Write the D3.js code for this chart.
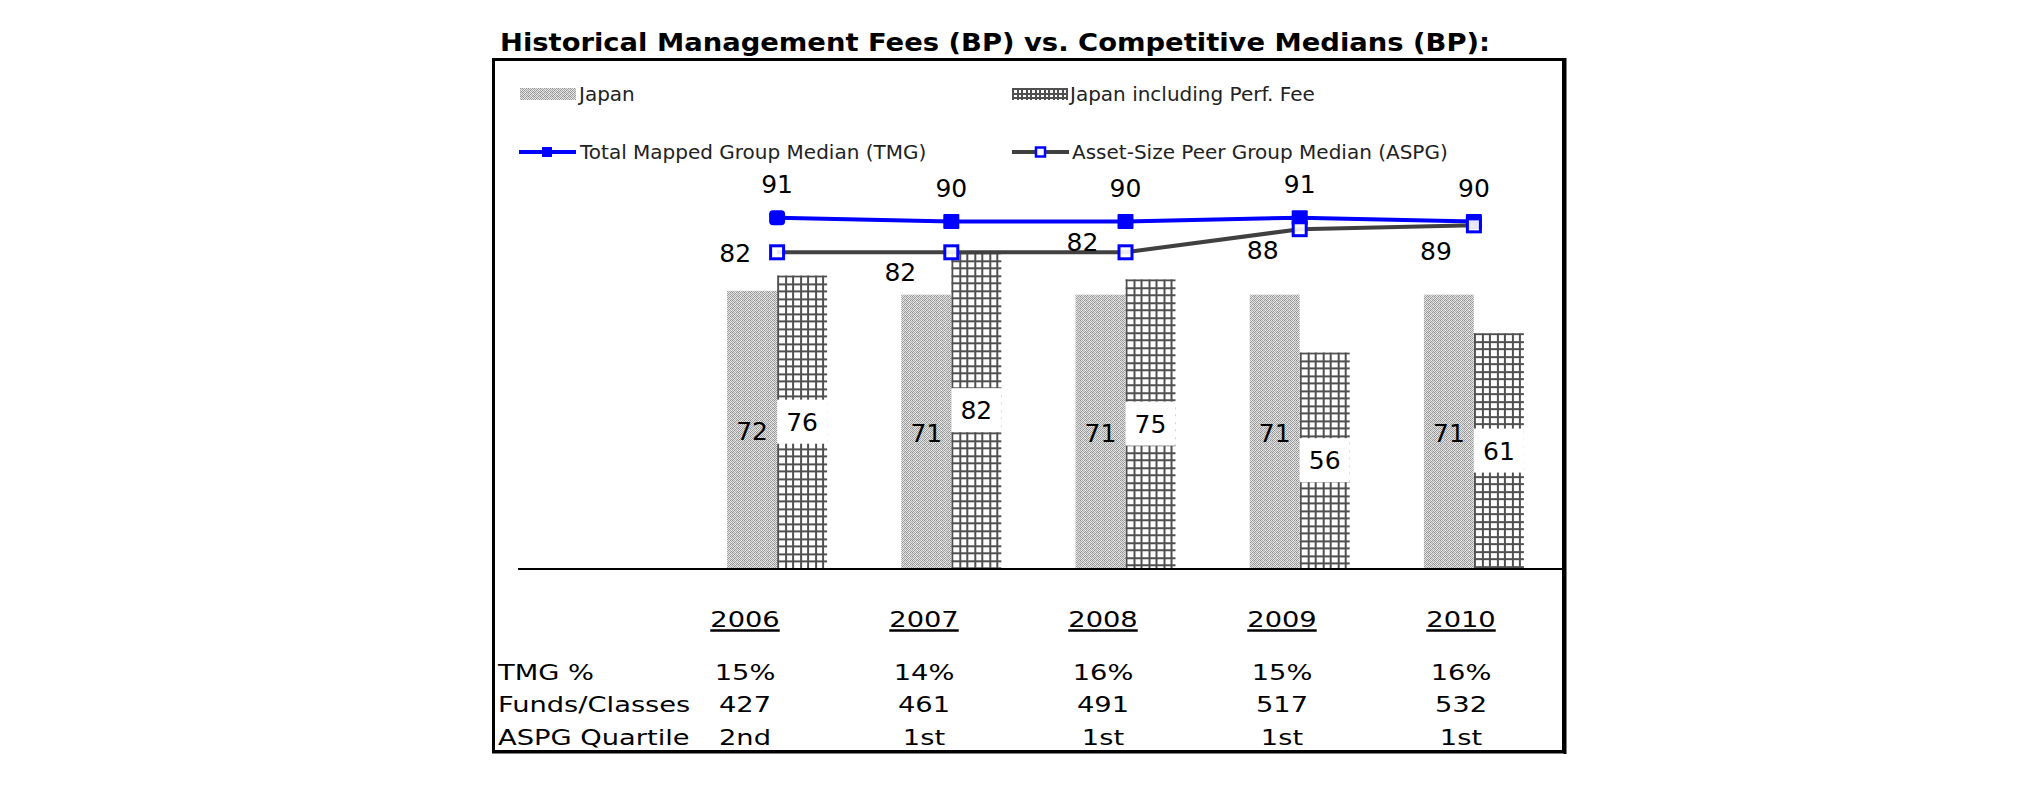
<!DOCTYPE html>
<html>
<head>
<meta charset="utf-8">
<script src="https://cdn.jsdelivr.net/npm/d3@7"></script>
<style>
  body { margin: 0; background: #fff; }
  svg { display: block; }
  text { font-family: "DejaVu Sans", Verdana, sans-serif; }
</style>
</head>
<body>
<div id="chart"></div>
<script>
// Historical management fees vs competitive medians (BP)
const years = ['2006', '2007', '2008', '2009', '2010'];
const japanFee = [72, 71, 71, 71, 71];
const japanPerfFee = [76, 82, 75, 56, 61];
const tmgMedian = [91, 90, 90, 91, 90];
const aspgMedian = [82, 82, 82, 88, 89];

const tableRows = ['TMG %', 'Funds/Classes', 'ASPG Quartile'];
const tmgPct = ['15%', '14%', '16%', '15%', '16%'];
const fundsClasses = ['427', '461', '491', '517', '532'];
const aspgQuartile = ['2nd', '1st', '1st', '1st', '1st'];

const W = 2025, H = 806;
const svg = d3.select('#chart').append('svg')
    .attr('width', W)
    .attr('height', H);

svg.append('rect').attr('width', W).attr('height', H).attr('fill', '#fff');

const defs = svg.append('defs');

// stipple pattern for the Japan bars (fine mottled dots)
const stipple = defs.append('pattern')
    .attr('id', 'stipple')
    .attr('patternUnits', 'userSpaceOnUse')
    .attr('width', 6).attr('height', 4);
const stippleCells = [
    ['#8a8a8a', '#e6e6e6', '#a8a8a8', '#eeeeee', '#949494', '#dedede'],
    ['#dadada', '#a0a0a0', '#e8e8e8', '#989898', '#e4e4e4', '#b0b0b0'],
    ['#a4a4a4', '#ececec', '#909090', '#dcdcdc', '#acacac', '#e8e8e8'],
    ['#e2e2e2', '#969696', '#e4e4e4', '#b4b4b4', '#d8d8d8', '#9a9a9a']
];
stippleCells.forEach((row, r) => row.forEach((c, k) => {
    stipple.append('rect').attr('x', k).attr('y', r)
        .attr('width', 1).attr('height', 1)
        .attr('fill', c).attr('shape-rendering', 'crispEdges');
}));

function gridPattern(id, x0, y0, step, lw) {
    const p = defs.append('pattern')
        .attr('id', id)
        .attr('patternUnits', 'userSpaceOnUse')
        .attr('x', x0).attr('y', y0)
        .attr('width', step * 2).attr('height', step * 2);
    p.append('rect').attr('width', step * 2).attr('height', step * 2).attr('fill', '#fff');
    [0, Math.round(step)].forEach(o => {
        p.append('rect').attr('x', o).attr('y', 0).attr('width', lw).attr('height', step * 2)
            .attr('fill', '#505050').attr('shape-rendering', 'crispEdges');
        p.append('rect').attr('x', 0).attr('y', o).attr('width', step * 2).attr('height', lw)
            .attr('fill', '#505050').attr('shape-rendering', 'crispEdges');
    });
}

// Scales
const x = d3.scaleBand().domain(years).range([690, 1561]);
const y = d3.scaleLinear().domain([0, 100]).range([568, 183]);
const barW = 50;

// Title
svg.append('text')
    .attr('x', 500).attr('y', 51)
    .style('font-size', '24px')
    .style('font-weight', 'bold')
    .attr('textLength', 990)
    .attr('lengthAdjust', 'spacingAndGlyphs')
    .text('Historical Management Fees (BP) vs. Competitive Medians (BP):');

// Frame
svg.append('rect')
    .attr('x', 493.5).attr('y', 59.5)
    .attr('width', 1070).attr('height', 692)
    .attr('fill', 'none').attr('stroke', '#000').attr('stroke-width', 3);
svg.append('line').attr('x1', 1565).attr('x2', 1565).attr('y1', 58).attr('y2', 754)
    .attr('stroke', '#000').attr('stroke-width', 3);
svg.append('line').attr('x1', 492).attr('x2', 1566).attr('y1', 752.5).attr('y2', 752.5)
    .attr('stroke', '#000').attr('stroke-width', 2);

// Legend
const legendFont = '20px';
gridPattern('grid-legend', 1012, 88, 4.5, 1.5);
svg.append('rect').attr('x', 520).attr('y', 88).attr('width', 56).attr('height', 12)
    .attr('fill', 'url(#stipple)');
svg.append('text').attr('x', 579).attr('y', 101)
    .style('font-size', legendFont).attr('fill', '#222').text('Japan');
svg.append('rect').attr('x', 1012).attr('y', 88).attr('width', 56).attr('height', 12)
    .attr('fill', 'url(#grid-legend)');
svg.append('text').attr('x', 1070).attr('y', 101)
    .style('font-size', legendFont).attr('fill', '#222').text('Japan including Perf. Fee');

svg.append('line').attr('x1', 519).attr('x2', 576).attr('y1', 152).attr('y2', 152)
    .attr('stroke', '#0000ff').attr('stroke-width', 4);
svg.append('rect').attr('x', 542).attr('y', 147).attr('width', 10).attr('height', 10)
    .attr('fill', '#0000ff');
svg.append('text').attr('x', 580).attr('y', 159)
    .style('font-size', legendFont).attr('fill', '#222').text('Total Mapped Group Median (TMG)');

svg.append('line').attr('x1', 1012).attr('x2', 1069).attr('y1', 152).attr('y2', 152)
    .attr('stroke', '#404040').attr('stroke-width', 4);
svg.append('rect').attr('x', 1036).attr('y', 147.5).attr('width', 9).attr('height', 9)
    .attr('fill', '#fff').attr('stroke', '#0000ff').attr('stroke-width', 2.5);
svg.append('text').attr('x', 1072).attr('y', 159)
    .style('font-size', legendFont).attr('fill', '#222').text('Asset-Size Peer Group Median (ASPG)');

// Bars
const bars = svg.append('g');
years.forEach((yr, i) => {
    const cx = x(yr) + x.bandwidth() / 2;
    const jTop = y(japanFee[i]);
    const pTop = y(japanPerfFee[i]);
    gridPattern('grid-' + i, cx, pTop, 7.5, 2);

    bars.append('rect')
        .attr('x', cx - barW).attr('y', jTop)
        .attr('width', barW).attr('height', y(0) - jTop)
        .attr('fill', 'url(#stipple)');
    bars.append('rect')
        .attr('x', cx).attr('y', pTop)
        .attr('width', barW).attr('height', y(0) - pTop)
        .attr('fill', 'url(#grid-' + i + ')');

    const pMid = (pTop + y(0)) / 2;
    bars.append('rect')
        .attr('x', cx).attr('y', pMid - 22)
        .attr('width', barW).attr('height', 44)
        .attr('fill', '#fff');
    bars.append('text')
        .attr('x', cx + barW / 2).attr('y', pMid + 9)
        .attr('text-anchor', 'middle')
        .style('font-size', '25px')
        .text(japanPerfFee[i]);

    const jMid = (jTop + y(0)) / 2;
    bars.append('text')
        .attr('x', cx - barW / 2).attr('y', jMid + 11)
        .attr('text-anchor', 'middle')
        .style('font-size', '25px')
        .text(japanFee[i]);
});

// Baseline
svg.append('line')
    .attr('x1', 518).attr('x2', 1563)
    .attr('y1', y(0) + 1).attr('y2', y(0) + 1)
    .attr('stroke', '#000').attr('stroke-width', 2);

// Lines
const line = d3.line()
    .x((d, i) => x(years[i]) + x.bandwidth() / 2)
    .y(d => y(d));

svg.append('path').datum(tmgMedian)
    .attr('fill', 'none').attr('stroke', '#0000ff').attr('stroke-width', 4)
    .attr('d', line);
svg.selectAll('.tmg-mark').data(tmgMedian).enter().append('rect')
    .attr('class', 'tmg-mark')
    .attr('x', (d, i) => x(years[i]) + x.bandwidth() / 2 - 8)
    .attr('y', d => y(d) - 7.5)
    .attr('width', 16).attr('height', 15)
    .attr('rx', (d, i) => i === 0 ? 4 : 1)
    .attr('fill', '#0000ff');
svg.selectAll('.tmg-label').data(tmgMedian).enter().append('text')
    .attr('class', 'tmg-label')
    .attr('x', (d, i) => x(years[i]) + x.bandwidth() / 2)
    .attr('y', d => y(d) - 25)
    .attr('text-anchor', 'middle')
    .style('font-size', '25px')
    .text(d => d);

svg.append('path').datum(aspgMedian)
    .attr('fill', 'none').attr('stroke', '#404040').attr('stroke-width', 4)
    .attr('d', line);
svg.selectAll('.aspg-mark').data(aspgMedian).enter().append('rect')
    .attr('class', 'aspg-mark')
    .attr('x', (d, i) => x(years[i]) + x.bandwidth() / 2 - 6.5)
    .attr('y', d => y(d) - 6.5)
    .attr('width', 13).attr('height', 13)
    .attr('fill', '#fff').attr('fill-opacity', 0.9)
    .attr('stroke', '#0000ff').attr('stroke-width', 3);

// label placement relative to each ASPG point: dx, dy, anchor
const aspgLabelPlace = [[-26, 10, 'end'], [-51, 29, 'middle'], [-43, -1, 'middle'], [-37, 30, 'middle'], [-38, 35, 'middle']];
svg.selectAll('.aspg-label').data(aspgMedian).enter().append('text')
    .attr('class', 'aspg-label')
    .attr('x', (d, i) => x(years[i]) + x.bandwidth() / 2 + aspgLabelPlace[i][0])
    .attr('y', d => y(d))
    .attr('dy', (d, i) => aspgLabelPlace[i][1])
    .attr('text-anchor', (d, i) => aspgLabelPlace[i][2])
    .style('font-size', '25px')
    .text(d => d);

// Table under the chart
const col = d3.scalePoint().domain(years).range([745, 1461]);
const stretch = 1.3;
const tableFont = '21px';

function tableText(tx, ty, str, anchor) {
    return svg.append('text')
        .attr('transform', `translate(${tx},${ty}) scale(${stretch},1)`)
        .attr('text-anchor', anchor)
        .style('font-size', tableFont)
        .attr('fill', '#000')
        .text(str);
}

years.forEach(yr => {
    const t = tableText(col(yr), 627, yr, 'middle');
    const w = t.node().getComputedTextLength() * stretch;
    svg.append('line')
        .attr('x1', col(yr) - w / 2).attr('x2', col(yr) + w / 2)
        .attr('y1', 630.5).attr('y2', 630.5)
        .attr('stroke', '#000').attr('stroke-width', 2.5);
});

const rowValues = [tmgPct, fundsClasses, aspgQuartile];
const rowY = [680, 712, 745];
tableRows.forEach((label, r) => {
    tableText(498, rowY[r], label, 'start');
    rowValues[r].forEach((v, i) => tableText(col(years[i]), rowY[r], v, 'middle'));
});
</script>
</body>
</html>
